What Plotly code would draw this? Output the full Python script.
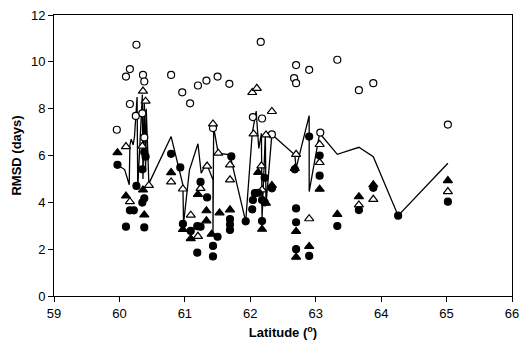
import plotly.graph_objects as go

# Open circles
oc_lat = [59.96, 60.10, 60.16, 60.26, 60.36, 60.38, 60.16, 60.25, 60.35, 60.38, 60.79, 60.96, 61.08, 61.20,
          61.33, 61.50, 61.68, 61.43, 62.04, 62.18, 62.16, 62.33, 62.67, 62.70, 62.70, 62.90, 63.07, 63.33,
          63.66, 63.88, 65.02]
oc_val = [7.10, 9.37, 9.69, 10.73, 9.44, 9.16, 8.20, 7.69, 7.80, 6.77, 9.44, 8.70, 8.23, 8.99,
          9.20, 9.37, 9.06, 7.17, 7.64, 7.58, 10.85, 6.90, 9.30, 9.86, 9.09, 9.66, 6.98, 10.09,
          8.79, 9.09, 7.32]

# Open triangles
ot_lat = [60.10, 60.35, 60.36, 60.40, 60.16, 60.45, 60.79, 60.97, 61.09, 61.20, 61.24, 61.34, 61.43, 61.51,
          61.69, 61.69, 62.03, 62.10, 62.33, 62.05, 62.24, 62.17, 62.18, 62.70, 62.90, 63.06, 63.06, 63.66,
          63.88, 65.02]
ot_val = [6.38, 6.40, 8.75, 8.32, 4.03, 4.72, 4.87, 4.57, 3.45, 2.55, 4.60, 5.55, 7.35, 6.10,
          5.60, 4.96, 8.69, 8.87, 7.88, 6.92, 6.88, 5.56, 4.53, 6.05, 3.30, 6.47, 5.70, 3.89,
          4.13, 4.46]

# Filled triangles
ft_lat = [59.97, 60.10, 60.36, 60.38, 60.79, 60.97, 61.09, 61.20, 61.33, 61.33, 61.41, 61.53, 61.69, 62.12,
          62.24, 62.18, 62.33, 62.68, 62.70, 62.70, 62.90, 63.06, 63.33, 63.66, 63.88, 65.02]
ft_val = [6.12, 4.27, 4.53, 3.46, 5.27, 2.84, 2.45, 4.34, 3.64, 3.21, 2.64, 3.55, 3.68, 5.28,
          3.96, 2.85, 4.72, 5.45, 2.76, 1.66, 2.12, 4.56, 3.49, 4.24, 4.75, 4.93]

# Filled circles
fc_lat = [59.97, 60.10, 60.16, 60.22, 60.26, 60.35, 60.38, 60.40, 60.35, 60.38, 60.38, 60.79, 60.93, 60.97,
          61.09, 61.19, 61.24, 61.19, 61.24, 61.34, 61.43, 61.43, 61.50, 61.69, 61.69, 61.69, 61.71, 61.93,
          62.03, 62.04, 62.07, 62.12, 62.18, 62.22, 62.22, 62.18, 62.33, 62.68, 62.70, 62.70, 62.70, 62.90,
          62.90, 63.06, 63.06, 63.33, 63.66, 63.88, 64.26, 65.02]
fc_val = [5.60, 2.96, 3.66, 3.66, 4.70, 5.41, 6.14, 5.95, 3.99, 4.17, 2.93, 6.07, 5.49, 3.08,
          2.78, 2.98, 2.96, 1.85, 4.87, 4.21, 2.14, 1.69, 2.53, 3.28, 3.05, 2.82, 5.96, 3.19,
          3.70, 4.10, 4.39, 4.41, 4.10, 4.00, 5.05, 3.20, 4.60, 5.41, 3.74, 3.15, 2.00, 1.71,
          6.81, 6.00, 5.14, 2.99, 3.67, 4.62, 3.43, 4.03]

# Line
ln_lat = [59.97, 60.08, 60.15, 60.16, 60.18, 60.21, 60.23, 60.27, 60.28, 60.35, 60.36, 60.38, 60.40, 60.41,
          60.45, 60.79, 60.97, 60.98, 61.07, 61.20, 61.25, 61.33, 61.43, 61.43, 61.44, 61.51, 61.69, 61.93,
          62.03, 62.09, 62.13, 62.17, 62.18, 62.23, 62.24, 62.33, 62.68, 62.70, 62.90, 62.90, 63.06, 63.33,
          63.66, 63.88, 64.26, 65.02]
ln_val = [5.60, 5.40, 4.75, 6.45, 6.70, 6.45, 6.80, 8.50, 4.60, 8.60, 5.00, 8.40, 5.30, 8.00,
          4.80, 6.81, 4.75, 3.10, 5.38, 6.50, 5.24, 5.67, 4.96, 2.60, 7.20, 6.10, 6.03, 3.18,
          6.95, 7.90, 6.30, 6.95, 3.30, 6.90, 3.90, 6.90, 6.03, 5.45, 7.70, 4.46, 6.95, 6.05,
          6.35, 5.95, 3.43, 5.67]

fig = go.Figure()
fig.add_trace(go.Scatter(x=ln_lat, y=ln_val, mode="lines",
                         line=dict(color="black", width=1.3), showlegend=False))
mk_line = dict(color="black", width=1.2)
fig.add_trace(go.Scatter(x=oc_lat, y=oc_val, mode="markers", showlegend=False,
                         marker=dict(symbol="circle", size=7, color="white", line=mk_line)))
fig.add_trace(go.Scatter(x=ot_lat, y=ot_val, mode="markers", showlegend=False,
                         marker=dict(symbol="triangle-up", size=8, color="white", line=mk_line)))
fig.add_trace(go.Scatter(x=ft_lat, y=ft_val, mode="markers", showlegend=False,
                         marker=dict(symbol="triangle-up", size=8, color="black", line=mk_line)))
fig.add_trace(go.Scatter(x=fc_lat, y=fc_val, mode="markers", showlegend=False,
                         marker=dict(symbol="circle", size=7, color="black", line=mk_line)))

font = dict(family="Liberation Sans, Arial, sans-serif", size=13, color="black")
fig.update_layout(
    width=522, height=354,
    margin=dict(l=54, r=10, t=15, b=58, autoexpand=False),
    paper_bgcolor="white", plot_bgcolor="white",
    font=font,
    xaxis=dict(range=[59, 66], tickmode="array", tickvals=[59, 60, 61, 62, 63, 64, 65, 66],
               showgrid=False, zeroline=False, showline=True, linecolor="black", linewidth=1,
               mirror=True, ticks="outside", ticklen=5, tickcolor="black", automargin=False,
               ticklabeloverflow="allow",
               title=dict(text="<b>Latitude (<sup>o</sup>)</b>", standoff=8, font=font)),
    yaxis=dict(range=[0, 12], tickmode="array", tickvals=[0, 2, 4, 6, 8, 10, 12],
               showgrid=False, zeroline=False, showline=True, linecolor="black", linewidth=1,
               mirror=True, ticks="outside", ticklen=5, tickcolor="black", automargin=False,
               title=dict(text="<b>RMSD (days)</b>", standoff=6, font=font)),
)
# remove the default 8px page margin so the figure fills the window exactly
fig.write_html("out.html", config={"displayModeBar": False},
               post_script="document.body.style.margin='0';document.body.style.overflow='hidden';")
